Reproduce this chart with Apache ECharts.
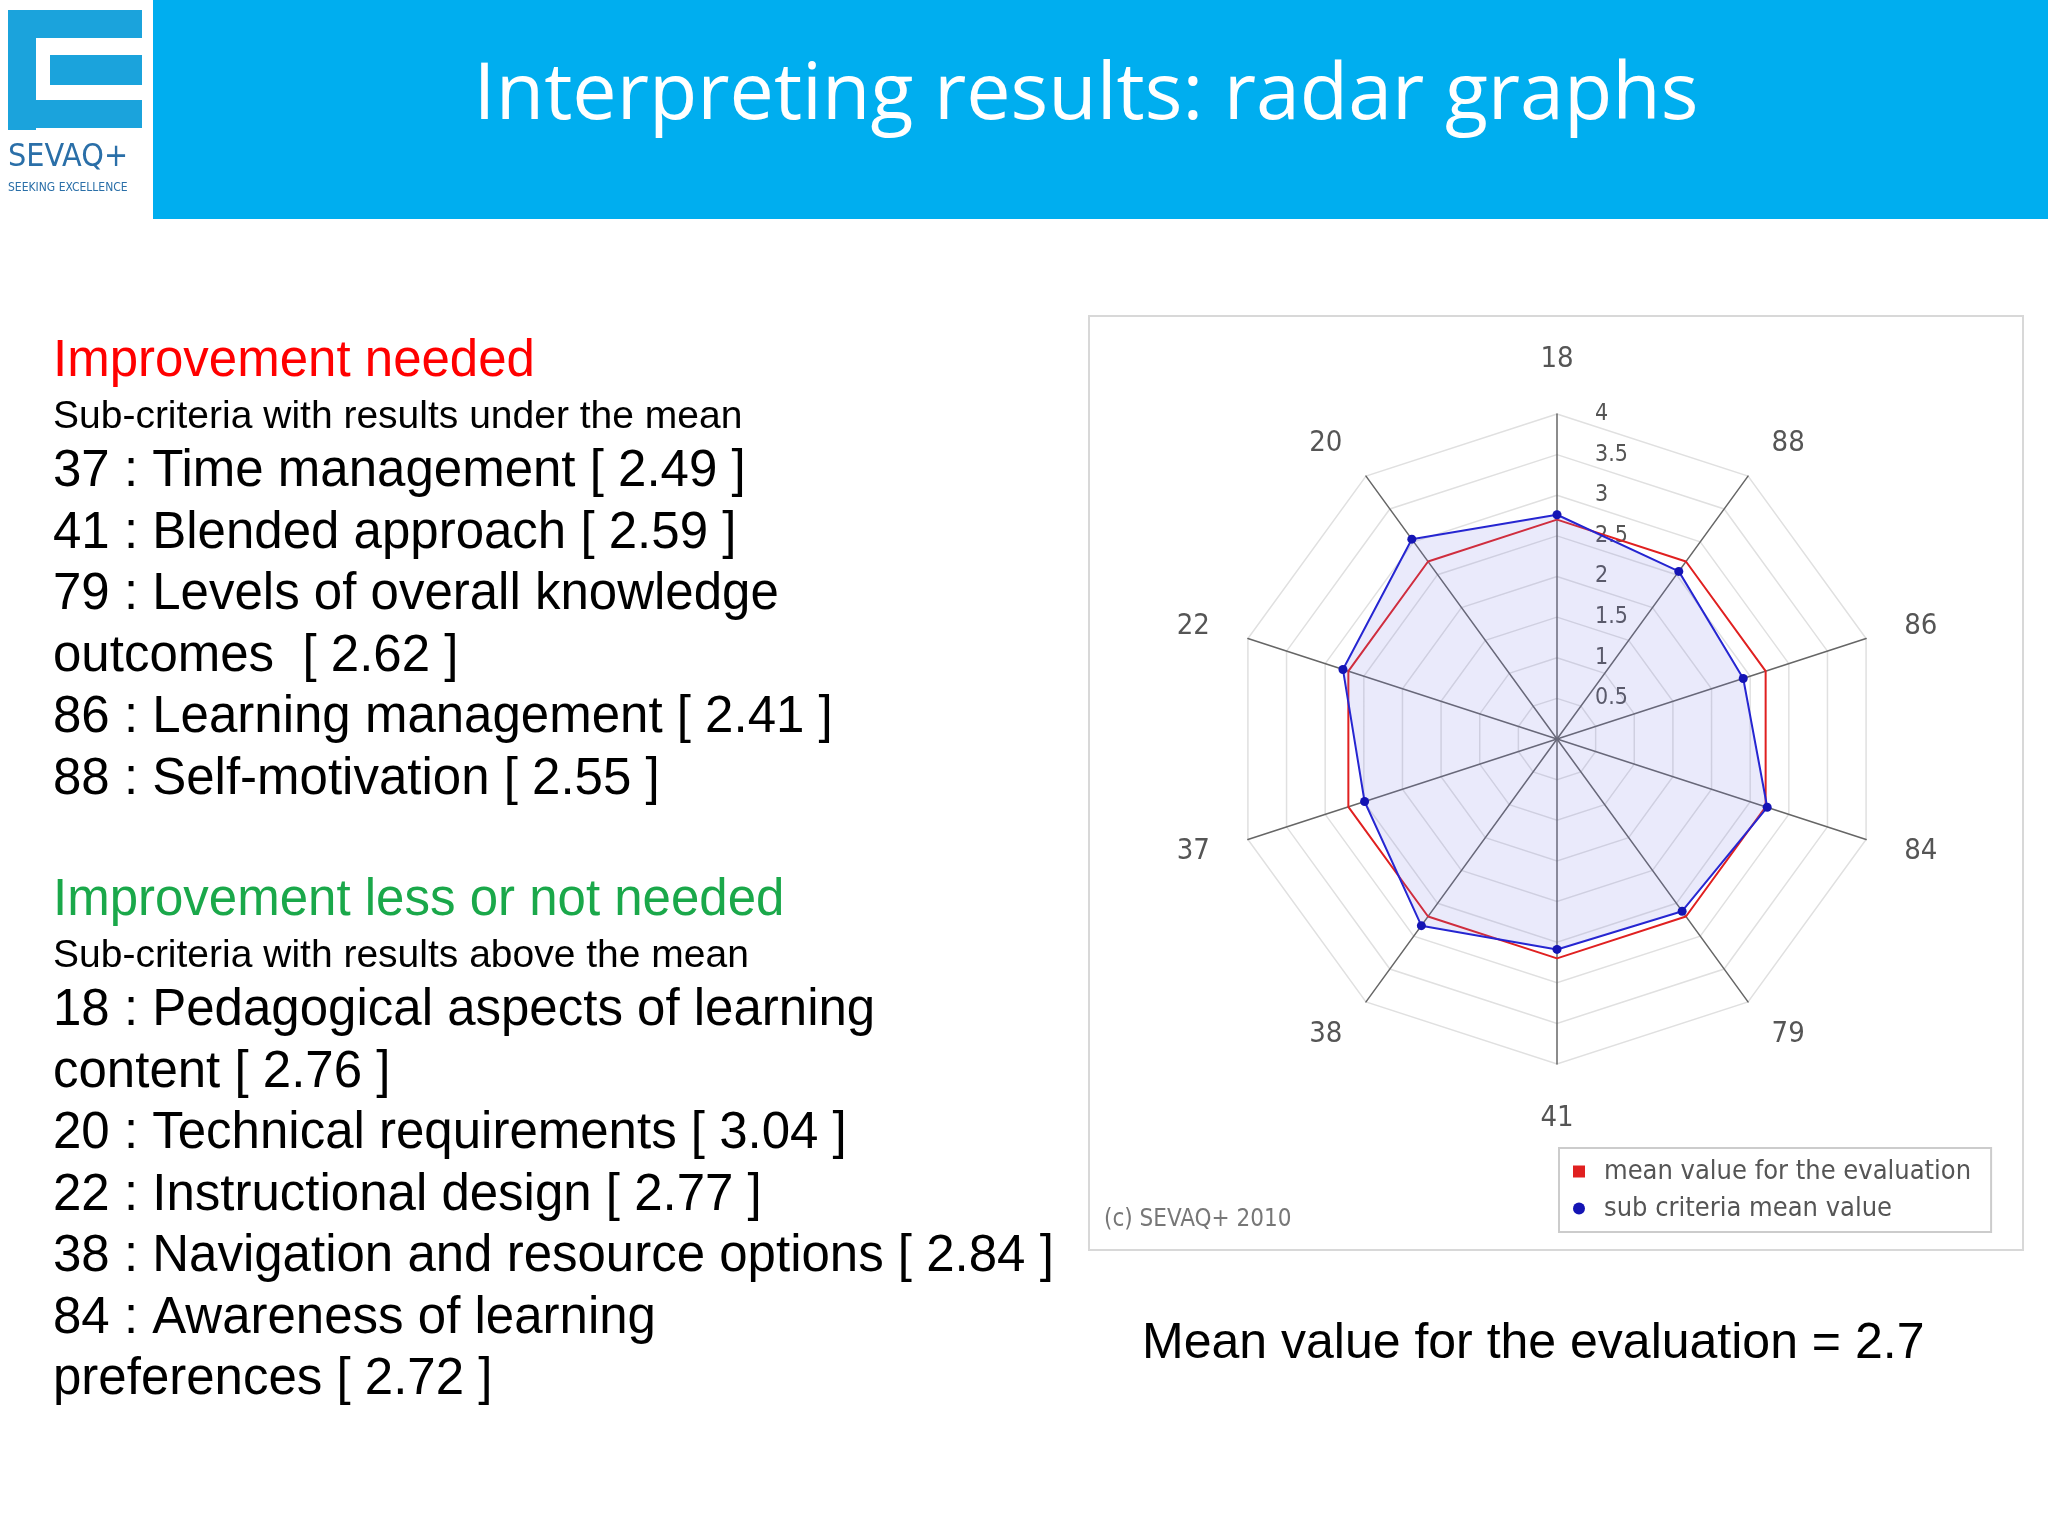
<!DOCTYPE html>
<html>
<head>
<meta charset="utf-8">
<style>html,body{margin:0;padding:0;background:#fff}#main{width:2048px;height:1536px}</style>
<script src="https://cdn.jsdelivr.net/npm/echarts@6/dist/echarts.min.js"></script>
</head>
<body>
<div id="main"></div>
<script>
// indicators in ECharts order (counter-clockwise from top)
var criteria = ['18', '20', '22', '37', '38', '41', '79', '84', '86', '88'];
var subMeans = [2.76, 3.04, 2.77, 2.49, 2.84, 2.59, 2.62, 2.72, 2.41, 2.55];
var evalMean = [2.7, 2.7, 2.7, 2.7, 2.7, 2.7, 2.7, 2.7, 2.7, 2.7];
var maxValue = 4;

var leftLinesA = [
  ['Improvement needed', 'red', 'h'],
  ['Sub-criteria with results under the mean', '#000', 's'],
  ['37 : Time management [ 2.49 ]', '#000', 'b'],
  ['41 : Blended approach [ 2.59 ]', '#000', 'b'],
  ['79 : Levels of overall knowledge', '#000', 'b'],
  ['outcomes  [ 2.62 ]', '#000', 'b'],
  ['86 : Learning management [ 2.41 ]', '#000', 'b'],
  ['88 : Self-motivation [ 2.55 ]', '#000', 'b']
];
var leftLinesB = [
  ['Improvement less or not needed', '#1aa84a', 'h'],
  ['Sub-criteria with results above the mean', '#000', 's'],
  ['18 : Pedagogical aspects of learning', '#000', 'b'],
  ['content [ 2.76 ]', '#000', 'b'],
  ['20 : Technical requirements [ 3.04 ]', '#000', 'b'],
  ['22 : Instructional design [ 2.77 ]', '#000', 'b'],
  ['38 : Navigation and resource options [ 2.84 ]', '#000', 'b'],
  ['84 : Awareness of learning', '#000', 'b'],
  ['preferences [ 2.72 ]', '#000', 'b']
];

var chart = echarts.init(document.getElementById('main'));

var graphics = [
  { type: 'rect', shape: { x: 153, y: 0, width: 1895, height: 219 }, style: { fill: '#00aeef' } },
  { type: 'rect', shape: { x: 8, y: 10, width: 134, height: 28 }, style: { fill: '#1ba3dc' } },
  { type: 'rect', shape: { x: 8, y: 10, width: 28, height: 120 }, style: { fill: '#1ba3dc' } },
  { type: 'rect', shape: { x: 50, y: 55, width: 92, height: 30 }, style: { fill: '#1ba3dc' } },
  { type: 'rect', shape: { x: 8, y: 100, width: 134, height: 28 }, style: { fill: '#1ba3dc' } },
  { type: 'text', left: 8, top: 142, style: { text: 'SEVAQ+', font: '32px "DejaVu Sans Condensed"', fill: '#2a6fa8' } },
  { type: 'text', left: 8, top: 182, style: { text: 'SEEKING EXCELLENCE', font: '12px "DejaVu Sans Condensed"', fill: '#2a6fa8' } },
  { type: 'text', x: 1086, y: 96, style: { text: 'Interpreting results: radar graphs', font: '79px "Open Sans"', fill: '#fff', align: 'center', verticalAlign: 'middle' } },
  { type: 'rect', shape: { x: 1089, y: 316, width: 934, height: 934 }, style: { fill: 'none', stroke: '#d8d8d8', lineWidth: 2 }, z: -1 },
  { type: 'text', x: 1104, y: 1220, style: { text: '(c) SEVAQ+ 2010', font: '24px "DejaVu Sans Condensed"', fill: '#777', verticalAlign: 'middle' } },
  { type: 'text', x: 1142, y: 1344, style: { text: 'Mean value for the evaluation = 2.7', font: '50px "Liberation Sans"', fill: '#000', verticalAlign: 'middle' } }
];

function addLines(lines, yStart) {
  var y = yStart;
  lines.forEach(function (l, i) {
    var size = l[2] === 's' ? 39 : 51;
    if (i > 0) y += (l[2] === 's' || lines[i - 1][2] === 's') ? 55 : 61.5;
    graphics.push({ type: 'text', x: 53, y: y, style: { text: l[0], font: size + 'px "Liberation Sans"', fill: l[1], verticalAlign: 'middle' } });
  });
}
addLines(leftLinesA, 362);
addLines(leftLinesB, 901);

var center = [1557, 739];
var radius = 325;

var option = {
  animation: false,
  graphic: graphics,
  legend: {
    left: 1559, top: 1148, orient: 'vertical',
    padding: [10, 20, 10, 14], itemGap: 10,
    borderColor: '#ccc', borderWidth: 2,
    itemWidth: 12, itemHeight: 12,
    textStyle: { fontSize: 27, color: '#555', fontFamily: 'DejaVu Sans Condensed', padding: [0, 0, 0, 14] },
    data: [
      { name: 'mean value for the evaluation', icon: 'rect' },
      { name: 'sub criteria mean value', icon: 'circle' }
    ]
  },
  radar: {
    center: center, radius: radius, shape: 'polygon', splitNumber: 8,
    indicator: criteria.map(function (c) { return { name: c, max: maxValue, min: 0 }; }),
    nameGap: 40,
    axisName: { color: '#555', fontSize: 29, fontFamily: 'DejaVu Sans Condensed' },
    splitLine: { lineStyle: { color: '#e0e0e0', width: 1.5 } },
    splitArea: { show: false },
    axisLine: { lineStyle: { color: '#666', width: 1.5 } }
  },
  polar: { center: center, radius: radius },
  angleAxis: { show: false, min: 0, max: 360 },
  radiusAxis: {
    min: 0, max: maxValue, interval: 0.5,
    axisLine: { show: false }, axisTick: { show: false }, splitLine: { show: false },
    axisLabel: { showMinLabel: false, color: '#555', fontSize: 23, fontFamily: 'DejaVu Sans Condensed', margin: -38, align: 'left' }
  },
  series: [
    {
      type: 'radar', name: 'mean value for the evaluation',
      symbol: 'none', itemStyle: { color: '#e02020' },
      lineStyle: { color: '#e02020', width: 2 },
      data: [{ value: evalMean, name: 'mean value for the evaluation' }]
    },
    {
      type: 'radar', name: 'sub criteria mean value',
      symbol: 'circle', symbolSize: 9, itemStyle: { color: '#1414b4' },
      lineStyle: { color: '#2020d0', width: 2 },
      areaStyle: { color: 'rgba(120,120,230,0.22)' },
      data: [{ value: subMeans, name: 'sub criteria mean value' }]
    }
  ]
};
chart.setOption(option);
</script>
</body>
</html>
